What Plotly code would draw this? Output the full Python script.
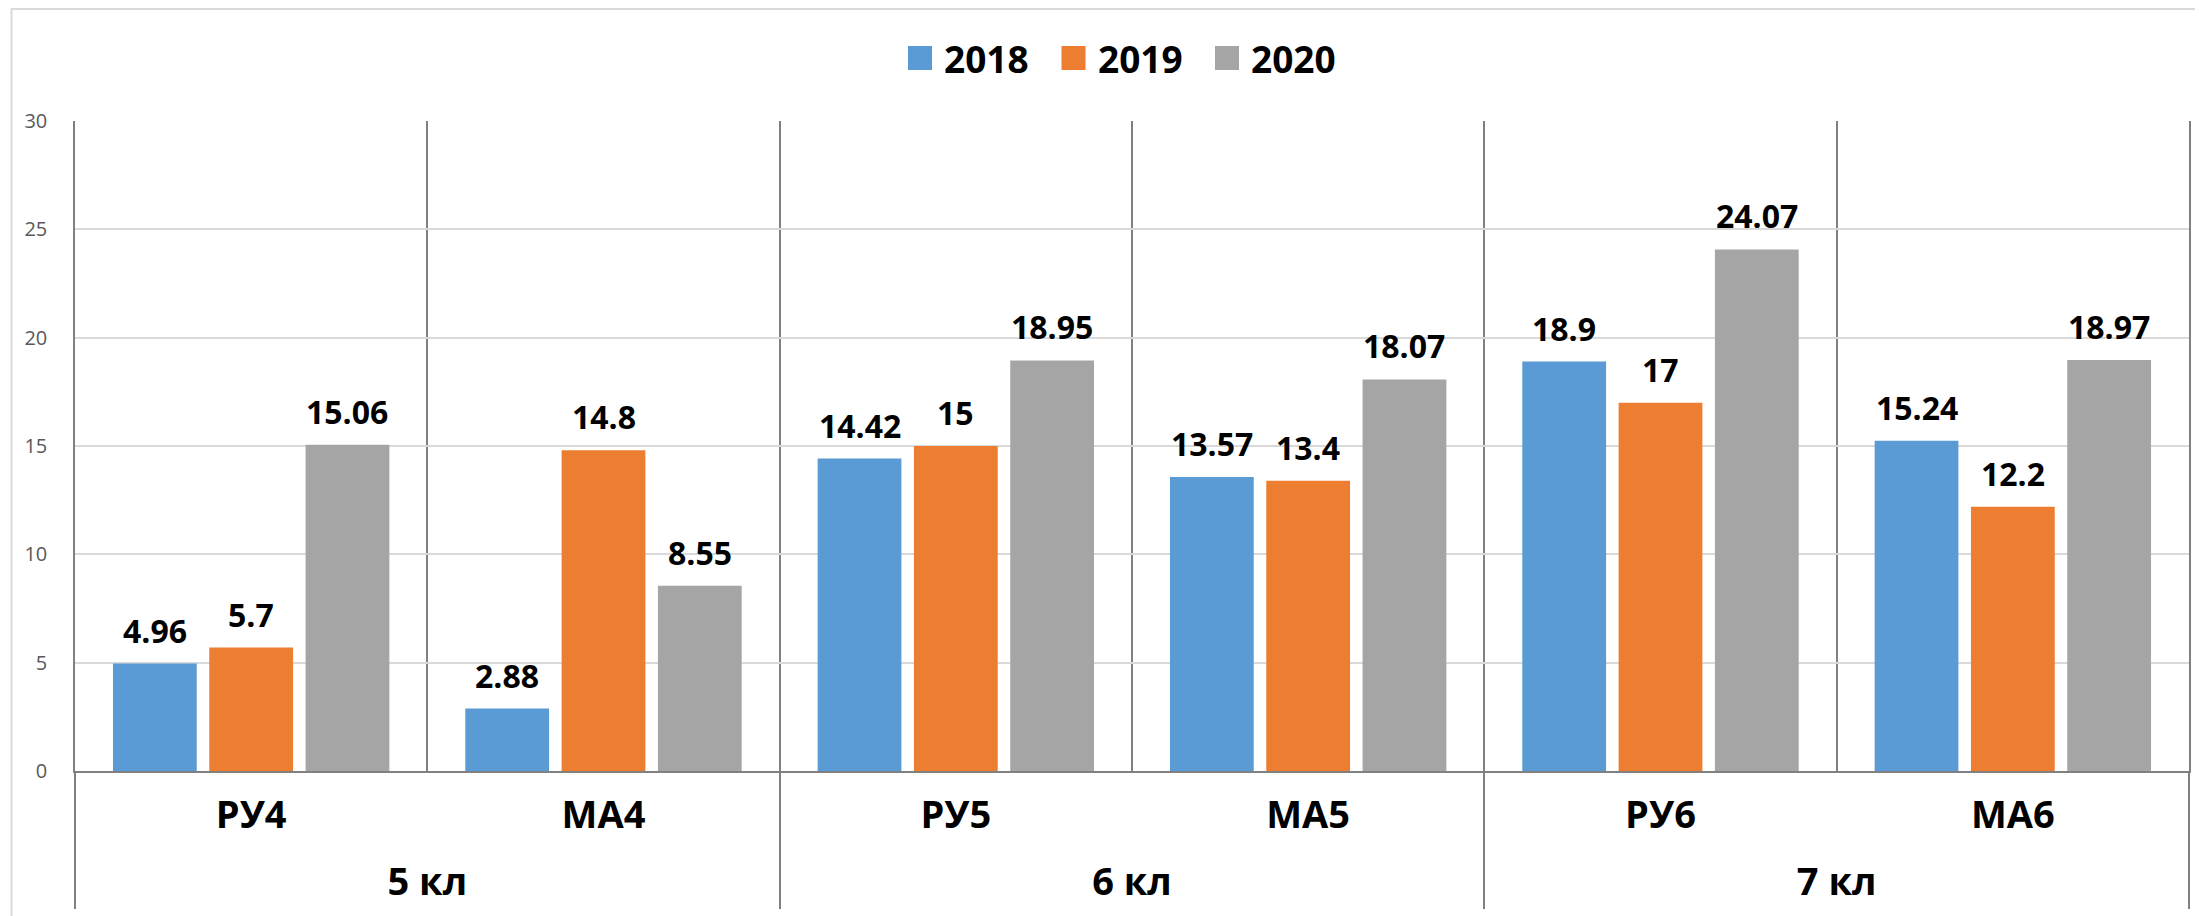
import plotly.graph_objects as go

# ---- data ----
groups = ["5 кл", "5 кл", "6 кл", "6 кл", "7 кл", "7 кл"]
categories = ["РУ4", "МА4", "РУ5", "МА5", "РУ6", "МА6"]
years = ["2018", "2019", "2020"]
v2018 = [4.96, 2.88, 14.42, 13.57, 18.9, 15.24]
v2019 = [5.7, 14.8, 15, 13.4, 17, 12.2]
v2020 = [15.06, 8.55, 18.95, 18.07, 24.07, 18.97]
y_ticks = [0, 5, 10, 15, 20, 25, 30]

series = [v2018, v2019, v2020]
colors = ["#5B9BD5", "#ED7D31", "#A5A5A5"]

# page body has an 8px default margin: the figure is drawn at (8, 8)
OFF = 8
PAGE_W, PAGE_H = 2203, 916
W, H = PAGE_W - OFF, PAGE_H - OFF
ML, MR, MT, MB = 75 - OFF, 14, 121 - OFF, 145
PW, PH = W - ML - MR, H - MT - MB

BARGAP = 0.18
BARGROUPGAP = 0.13
FONT = "Open Sans"
AXIS_GREY = "#808080"

fig = go.Figure()
for name, vals, col in zip(years, series, colors):
    fig.add_trace(go.Bar(
        name=name,
        x=categories,
        y=vals,
        marker=dict(color=col, line=dict(width=0)),
        showlegend=False,
    ))

# group (outer level) labels and group dividers from the groups list
unique_groups = []
for g in groups:
    if g not in unique_groups:
        unique_groups.append(g)
group_centers, group_bounds = [], [-0.5]
for g in unique_groups:
    idx = [i for i, gg in enumerate(groups) if gg == g]
    group_centers.append(sum(idx) / len(idx))
    group_bounds.append(idx[-1] + 0.5)

# data labels through a hidden linear x axis overlaying the category axis
slot = (1 - BARGAP) / len(series)
annotations = []
for j, vals in enumerate(series):
    for i, v in enumerate(vals):
        annotations.append(dict(
            xref="x2", yref="y",
            x=i + (j - (len(series) - 1) / 2) * slot,
            y=v,
            text=f"{v:g}",
            showarrow=False,
            xanchor="center", yanchor="bottom",
            yshift=10,
            font=dict(family=FONT, size=32, color="black", weight="bold"),
        ))

# manual legend (larger square swatches, like the reference)
def px2paper_x(px):  # px in page coordinates
    return (px - OFF - ML) / PW

def px2paper_y(py):
    return (H - MB - (py - OFF)) / PH

shapes = []
leg_x0, leg_step, sw = 908, 153.5, 24
leg_cy = 58
for k, (name, col) in enumerate(zip(years, colors)):
    sx = leg_x0 + k * leg_step
    shapes.append(dict(type="rect", xref="paper", yref="paper",
                       x0=px2paper_x(sx), x1=px2paper_x(sx + sw),
                       y0=px2paper_y(leg_cy + sw / 2), y1=px2paper_y(leg_cy - sw / 2),
                       fillcolor=col, line=dict(width=0)))
    annotations.append(dict(xref="paper", yref="paper",
                            x=px2paper_x(sx + sw + 10), y=px2paper_y(leg_cy),
                            text=name, showarrow=False,
                            xanchor="left", yanchor="middle",
                            font=dict(family=FONT, size=37, color="black", weight="bold")))

# outer chart border
shapes.append(dict(type="rect", xref="paper", yref="paper", layer="below",
                   x0=px2paper_x(11.5), x1=px2paper_x(PAGE_W + 10),
                   y0=px2paper_y(PAGE_H + 10), y1=px2paper_y(OFF + 1),
                   line=dict(color="#D9D9D9", width=2), fillcolor="rgba(0,0,0,0)"))

fig.update_layout(
    width=W, height=H,
    margin=dict(l=ML, r=MR, t=MT, b=MB, autoexpand=False),
    paper_bgcolor="white", plot_bgcolor="white",
    barmode="group", bargap=BARGAP, bargroupgap=BARGROUPGAP,
    showlegend=False,
    font=dict(family=FONT),
    annotations=annotations,
    shapes=shapes,
    xaxis=dict(
        type="category",
        tickson="boundaries",
        showgrid=True, gridcolor=AXIS_GREY, gridwidth=1.5,
        showline=True, linecolor=AXIS_GREY, linewidth=2,
        ticks="",
        ticklabelstandoff=9,
        tickfont=dict(family=FONT, size=38, color="black", weight="bold"),
        zeroline=False,
    ),
    xaxis2=dict(
        overlaying="x", anchor="y", side="bottom",
        range=[-0.5, len(categories) - 0.5],
        tickmode="array", tickvals=group_centers, ticktext=unique_groups,
        ticks="", ticklabelstandoff=85,
        tickfont=dict(family=FONT, size=38, color="black", weight="bold"),
        minor=dict(tickmode="array", tickvals=group_bounds, ticks="outside",
                   ticklen=137, tickwidth=1.5, tickcolor=AXIS_GREY, showgrid=False),
        showgrid=False, zeroline=False, showline=False,
    ),
    yaxis=dict(
        range=[0, 30], tickvals=y_ticks,
        showgrid=True, gridcolor="#D9D9D9", gridwidth=1.5,
        showline=True, linecolor=AXIS_GREY, linewidth=1.5, mirror=True,
        zeroline=False, ticks="",
        ticklabelstandoff=22,
        tickfont=dict(family=FONT, size=20, color="#595959"),
    ),
)

fig.write_html("out.html")
